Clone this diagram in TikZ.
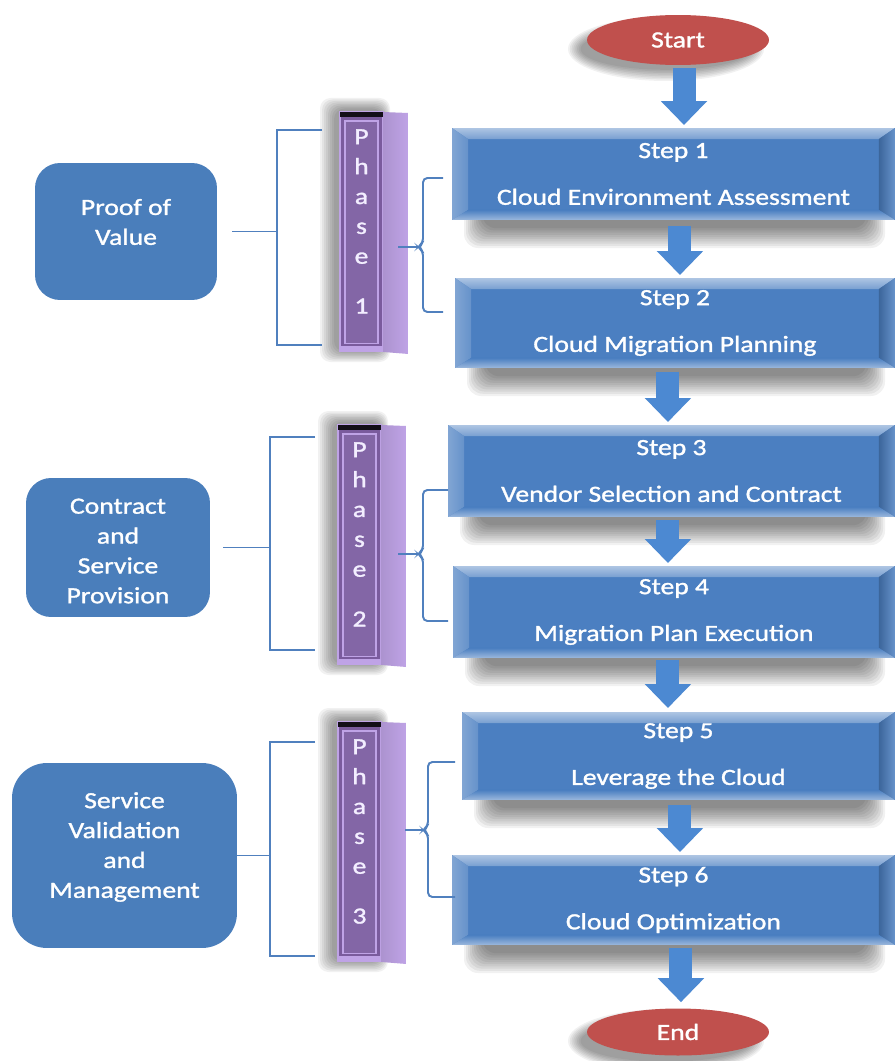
\documentclass[tikz,border=0pt]{standalone}
\usepackage{fontspec}
\setmainfont{Carlito}[FakeStretch=1.19,FakeBold=1.3]
\usetikzlibrary{calc,arrows.meta,shapes.geometric}
\definecolor{stepface}{HTML}{4B7FC1}
\definecolor{lbface}{HTML}{4A7EBB}
\definecolor{termred}{HTML}{C0504D}
\definecolor{arrowblue}{HTML}{4C89D2}
\definecolor{brkblue}{HTML}{5080BE}
\definecolor{barface}{HTML}{7A5B9D}
\definecolor{barinner}{HTML}{8366A6}
\definecolor{barline}{HTML}{BFA3E6}
\definecolor{bartxt}{HTML}{F3EEFF}
\tikzset{
  stepbox/.style={rectangle, anchor=north west, inner sep=0pt, outer sep=0pt,
    fill=stepface, text=white, align=center, font=\fontsize{13.2}{26.6}\selectfont},
  bevtop/.style={top color=stepface!45!white, bottom color=stepface!75!white},
  bevleft/.style={left color=stepface!70!white, right color=stepface!85!white},
  bevright/.style={left color=stepface!80!black, right color=stepface!85!white},
  bevbot/.style={top color=stepface, bottom color=stepface!55!white},
  leftbox/.style={rectangle, inner sep=0pt, fill=lbface},
  lbtxt/.style={inner sep=0pt, text=white, align=center, font=\fontsize{13.2}{17}\selectfont},
  terminal/.style={ellipse, inner sep=0pt, fill=termred, text=white,
    font=\fontsize{13.2}{16}\selectfont, minimum width=3.64cm},
  barrow/.style={draw=arrowblue, line width=0.46cm, -{Triangle[width=0.9cm,length=0.48cm]}, shorten >=0.06cm},
  barfront/.style={rectangle, anchor=north west, inner sep=0pt, outer sep=0pt,
    minimum width=0.86cm, minimum height=4.8cm, fill=barface, draw=barline, line width=0.6pt},
  phtxt/.style={inner sep=0pt, text=bartxt, align=center, font=\fontsize{13.2}{17}\selectfont},
  brk/.style={draw=brkblue, line width=1.1pt},
  shad/.style={fill=black, opacity=0.055},
}
% soft shadow under a step box: #1 left x, #2 bottom y
\newcommand{\stepshadow}[2]{%
  \foreach \k in {0,...,9} {\fill[shad, rounded corners=8pt] ({#1+12+\k*2},{#2-25+\k*1.5}) rectangle ({885-\k*2},{#2+28-\k*2.2});}
}
% soft glow left of a phase bar: #1 left x, #2 top y
\newcommand{\barshadow}[2]{%
  \foreach \k in {0,...,7} {\fill[shad, rounded corners=6pt] ({#1-20+\k*2},{#2-14+\k*1.5}) rectangle ({#1+50-\k*1},{#2+250-\k*1.5});}
}
% soft shadow of a terminal: #1 cx, #2 cy
\newcommand{\termshadow}[2]{%
  \foreach \k in {0,...,7} {\fill[shad] ({#1-12},{#2+9}) ellipse [x radius={98-\k*1.8}, y radius={32-\k*1.6}];}
}
\newcommand{\bevelbox}[1]{%
  \shade[bevtop] (#1.north west) -- (#1.north east) -- ($(#1.north east)+(-16,11)$) -- ($(#1.north west)+(16,11)$) -- cycle;
  \shade[bevleft] (#1.north west) -- ($(#1.north west)+(16,11)$) -- ($(#1.south west)+(16,-10)$) -- (#1.south west) -- cycle;
  \shade[bevright] (#1.north east) -- ($(#1.north east)+(-16,11)$) -- ($(#1.south east)+(-16,-10)$) -- (#1.south east) -- cycle;
  \shade[bevbot] (#1.south west) -- ($(#1.south west)+(16,-10)$) -- ($(#1.south east)+(-16,-10)$) -- (#1.south east) -- cycle;
}
\newcommand{\phasebar}[2]{%
  \shade[left color=barline!90!black, middle color=barline!35!white, right color=barline]
    (#1.north east) -- ($(#1.north east)+(25,1)$) -- ($(#1.south east)+(25,2)$) -- (#1.south east) -- cycle;
  \fill[barline] ($(#1.south west)+(0,-6)$) rectangle (#1.south east);
  \fill[barinner, draw=barline, line width=0.6pt] ($(#1.north west)+(5,9)$) rectangle ($(#1.south east)+(-5,-8)$);
  \fill[black!85!barface] (#1.north west) -- (#1.north east) -- ($(#1.north east)+(0,5)$) -- ($(#1.north west)+(0,5)$) -- cycle;
  \node[phtxt, anchor=north] (#1t) at ($(#1.north)+(0,17)$) {P\\h\\a\\s\\e\\[0.4cm]#2};
}
\begin{document}
\begin{tikzpicture}[x=0.02cm, y=-0.02cm]
\useasboundingbox (0,0) rectangle (895,1061);
\fill[white] (0,0) rectangle (895,1061);

% shadows
\stepshadow{452}{220}
\stepshadow{455}{368}
\stepshadow{448}{517}
\stepshadow{453}{658}
\stepshadow{462}{800}
\stepshadow{452}{945}
\termshadow{678}{40}
\termshadow{678}{1032}
\barshadow{340}{112}
\barshadow{338}{425}
\barshadow{338}{722}

% left phase boxes
\node[leftbox, minimum width=3.64cm, minimum height=2.74cm, rounded corners=0.5cm] (v1) at (126,231.5) {};
\node[lbtxt] (v1t) at (126,222) {Proof of\\Value};
\node[leftbox, minimum width=3.68cm, minimum height=2.78cm, rounded corners=0.5cm] (v2) at (118,547.5) {};
\node[lbtxt] (v2t) at (118,551) {Contract\\and\\Service\\Provision};
\node[leftbox, minimum width=4.5cm, minimum height=3.7cm, rounded corners=0.7cm] (v3) at (124.5,855.5) {};
\node[lbtxt] (v3t) at (124.5,847) {Service\\Validation\\and\\Management};

% step boxes
\node[stepbox, minimum width=8.86cm, minimum height=1.84cm] (s1) at (452,128) {Step 1\\Cloud Environment Assessment};
\bevelbox{s1}
\node[stepbox, minimum width=8.80cm, minimum height=1.80cm] (s2) at (455,278) {Step 2\\Cloud Migration Planning};
\bevelbox{s2}
\node[stepbox, minimum width=8.94cm, minimum height=1.84cm] (s3) at (448,425) {Step 3\\Vendor Selection and Contract};
\bevelbox{s3}
\node[stepbox, minimum width=8.84cm, minimum height=1.84cm] (s4) at (453,566) {Step 4\\Migration Plan Execution};
\bevelbox{s4}
\node[stepbox, minimum width=8.66cm, minimum height=1.76cm] (s5) at (462,712) {Step 5\\Leverage the Cloud};
\bevelbox{s5}
\node[stepbox, minimum width=8.86cm, minimum height=1.80cm] (s6) at (452,855) {Step 6\\Cloud Optimization};
\bevelbox{s6}

% terminals
\node[terminal, minimum height=1.0cm] (start) at (678,40) {Start};
\node[terminal, minimum height=0.94cm] (stop) at (678,1032) {End};

% block arrows
\path (start.south) ++(6,3) coordinate (a0);
\draw[barrow] (a0) -- (a0 |- s1.north);
\path (s1.south) ++(6.5,6) coordinate (a1);
\draw[barrow] (a1) -- (a1 |- s2.north);
\path (s2.south) ++(-7,4) coordinate (a2);
\draw[barrow] (a2) -- (a2 |- s3.north);
\path (s3.south) ++(-3.5,3) coordinate (a3);
\draw[barrow] (a3) -- (a3 |- s4.north);
\path (s4.south) ++(-6,2) coordinate (a4);
\draw[barrow, shorten >=0.08cm] (a4) -- (a4 |- s5.north);
\path (s5.south) ++(1.5,5) coordinate (a5);
\draw[barrow] (a5) -- (a5 |- s6.north);
\path (s6.south) ++(7.5,3) coordinate (a6);
\draw[barrow, shorten >=0.12cm] (a6) -- (a6 |- stop.north);

% phase bars
\node[barfront] (p1) at (340,112) {};
\phasebar{p1}{1}
\node[barfront] (p2) at (338,425) {};
\phasebar{p2}{2}
\node[barfront] (p3) at (338,722) {};
\phasebar{p3}{3}

% left brackets
\coordinate (b1) at (277,237);
\draw[brk] (322,130) -| (b1) |- (322,345);
\draw[brk, shorten <=0.3cm] (v1.east) -- (v1.east -| b1);
\coordinate (b2) at (270,545);
\draw[brk] (315,437) -| (b2) |- (315,650);
\draw[brk, shorten <=0.26cm] (v2.east) -- (v2.east -| b2);
\coordinate (b3) at (270,848);
\draw[brk] (315,742) -| (b3) |- (315,956);
\draw[brk] (v3.east) -- (v3.east -| b3);

% right braces
\coordinate (r1) at (418,247);
\draw[brk, rounded corners=2.5pt] (443,178) -- (423,178) -- (423,243) -- (r1) -- (423,251) -- (423,312) -- (443,312);
\draw[brk] (r1) -- ++(-20,0);
\coordinate (r2) at (418,554);
\draw[brk, rounded corners=2.5pt] (448,490) -- (423,490) -- (423,550) -- (r2) -- (423,558) -- (423,621) -- (448,621);
\draw[brk] (r2) -- ++(-20,0);
\coordinate (r3) at (423,830);
\draw[brk, rounded corners=2.5pt] (455,762) -- (428,762) -- (428,826) -- (r3) -- (428,834) -- (428,897) -- (455,897);
\draw[brk] (r3) -- ++(-18,0);
\end{tikzpicture}
\end{document}
